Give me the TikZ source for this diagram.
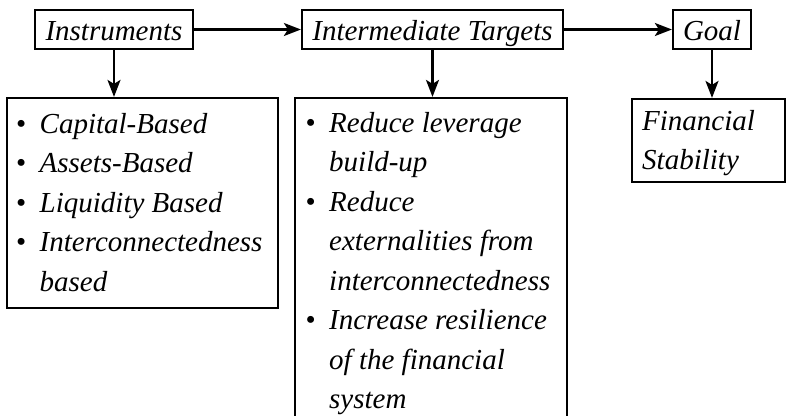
\documentclass[tikz,border=0pt]{standalone}
\usepackage{fontspec}
\setmainfont{Liberation Serif}
\usetikzlibrary{arrows.meta}
\begin{document}
\begin{tikzpicture}[x=1pt,y=-1pt,
  every node/.style={font=\fontsize{29}{39.5}\selectfont\itshape},
  frame/.style={draw,line width=2.2pt,inner sep=0pt,rectangle},
  head/.style={frame,minimum height=39pt,text height=25pt,text depth=4pt},
  listtext/.style={inner sep=0pt,anchor=base west,align=left},
  arr/.style={line width=2.2pt,-{Stealth[length=17pt,width=13pt,inset=4pt]}}]
\useasboundingbox (0,0) rectangle (787,415);
\clip (0,0) rectangle (787,415);
\newcommand{\bul}{\textup{\textbullet}}

% top row
\node[head,minimum width=158pt] (instr) at (114,29.5) {Instruments};
\node[head,minimum width=261pt] (inter) at (432.5,29.5) {Intermediate Targets};
\node[head,minimum width=78pt] (goal) at (712,29.5) {Goal};

% lower boxes
\node[frame,minimum width=271pt,minimum height=210pt] (lbox) at (142.5,203) {};
\node[frame,minimum width=272pt,minimum height=342pt] (mbox) at (431,269) {};
\node[frame,minimum width=153pt,minimum height=83pt] (fbox) at (708.5,140.5) {};

% box contents
\node[listtext] (ltext) at (16,133) {\begin{tabular}[t]{@{}p{23.5pt}@{}l@{}}
\bul & Capital-Based\\
\bul & Assets-Based\\
\bul & Liquidity Based\\
\bul & Interconnectedness\\
     & based
\end{tabular}};
\node[listtext] (mtext) at (305.5,132) {\begin{tabular}[t]{@{}p{23.5pt}@{}l@{}}
\bul & Reduce leverage\\
     & build-up\\
\bul & Reduce\\
     & externalities from\\
     & interconnectedness\\
\bul & Increase resilience\\
     & of the financial\\
     & system
\end{tabular}};
\node[listtext] (ftext) at (642,130) {\begin{tabular}[t]{@{}l@{}}
Financial\\
Stability
\end{tabular}};

% connectors
\draw[arr] (instr) -- (inter);
\draw[arr] (inter) -- (goal);
\draw[arr] (instr.south) -- (instr.south |- lbox.north);
\draw[arr] (inter.south) -- (inter.south |- mbox.north);
\draw[arr] (goal.south) -- (goal.south |- fbox.north);
\end{tikzpicture}
\end{document}
